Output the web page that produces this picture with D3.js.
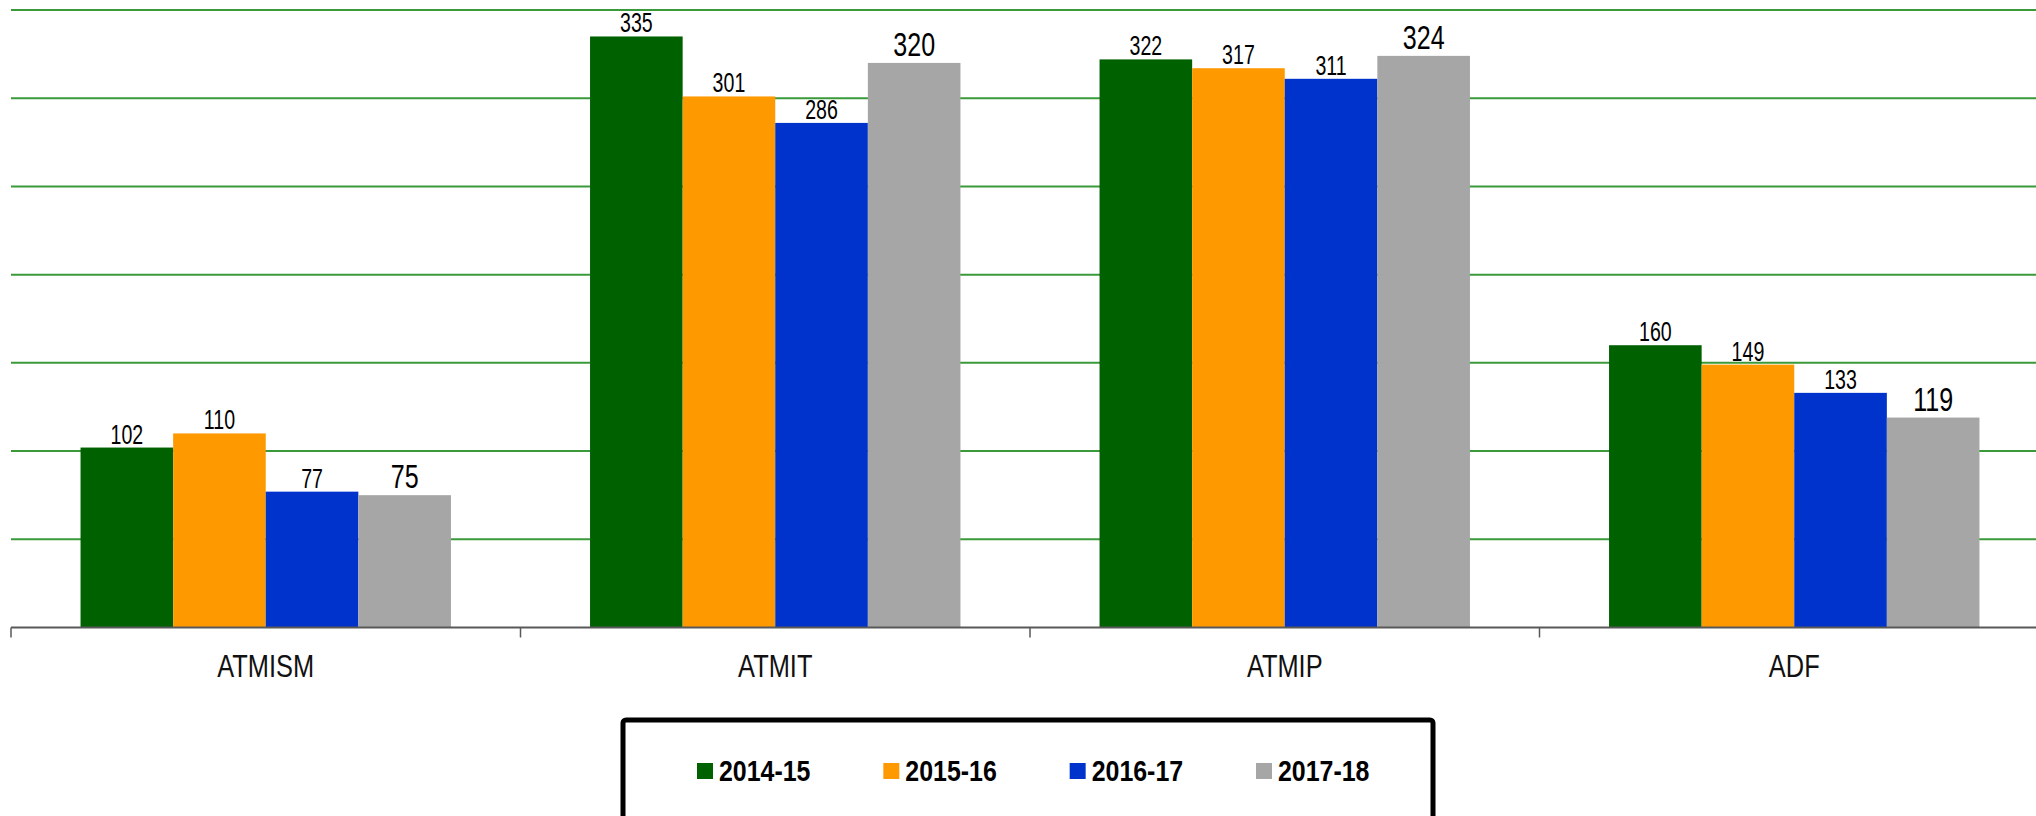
<!DOCTYPE html>
<html>
<head>
<meta charset="utf-8">
<script src="https://cdn.jsdelivr.net/npm/d3@7"></script>
<style>
  body { margin: 0; background: #fff; }
  text { font-family: "Liberation Sans", Arial, sans-serif; }
</style>
</head>
<body>
<div id="viz"></div>
<script>
const categories = ["ATMISM", "ATMIT", "ATMIP", "ADF"];
const seriesNames = ["2014-15", "2015-16", "2016-17", "2017-18"];
const values2014 = [102, 335, 322, 160];
const values2015 = [110, 301, 317, 149];
const values2016 = [77, 286, 311, 133];
const values2017 = [75, 320, 324, 119];
const yTicks = [50, 100, 150, 200, 250, 300, 350];
const colors = ["#006100", "#ff9900", "#0033cc", "#a6a6a6"];

document.addEventListener("DOMContentLoaded", () => {
    const width = 2036;
    const height = 816;
    const allValues = [values2014, values2015, values2016, values2017];

    const svg = d3.select('#viz').append('svg')
        .attr('width', width)
        .attr('height', height);

    const x = d3.scaleBand()
        .domain(categories)
        .range([11, 2049])
        .paddingInner(0)
        .paddingOuter(0);

    const xSeries = d3.scaleBand()
        .domain(seriesNames)
        .range([0, x.bandwidth()])
        .paddingInner(0)
        .paddingOuter(0.751);

    const y = d3.scaleLinear()
        .domain([0, 350])
        .range([627.5, 10]);

    // grid lines
    svg.append('g')
        .selectAll('line')
        .data(yTicks)
        .enter()
        .append('line')
        .attr('x1', 11)
        .attr('x2', width)
        .attr('y1', d => y(d))
        .attr('y2', d => y(d))
        .attr('stroke', '#3a9a3a')
        .attr('stroke-width', 2);

    // bars
    const groups = svg.append('g')
        .selectAll('g')
        .data(categories)
        .enter()
        .append('g')
        .attr('transform', d => `translate(${x(d)},0)`);

    const cells = (c, i) => seriesNames.map((s, j) => ({ s, j, v: allValues[j][i] }));

    groups.selectAll('rect')
        .data(cells)
        .enter()
        .append('rect')
        .attr('x', d => xSeries(d.s))
        .attr('width', xSeries.bandwidth())
        .attr('y', d => y(d.v))
        .attr('height', d => y(0) - y(d.v))
        .attr('fill', d => colors[d.j]);

    // value labels, squeezed to look like the condensed face
    groups.selectAll('text')
        .data(cells)
        .enter()
        .append('text')
        .attr('transform', d => {
            const lx = xSeries(d.s) + xSeries.bandwidth() / 2;
            const ly = y(d.v) - (d.j === 3 ? 7 : 4);
            return `translate(${lx},${ly}) scale(${d.j === 3 ? 0.76 : 0.7},1)`;
        })
        .attr('text-anchor', 'middle')
        .attr('font-size', d => d.j === 3 ? 33 : 28)
        .attr('fill', '#000')
        .text(d => d.v);

    // x axis
    const xAxis = svg.append('g')
        .attr('transform', `translate(0,${y(0)})`);
    xAxis.append('line')
        .attr('x1', 11).attr('x2', width)
        .attr('stroke', '#595959').attr('stroke-width', 2);
    xAxis.selectAll('.sep')
        .data(categories)
        .enter()
        .append('line')
        .attr('x1', d => x(d)).attr('x2', d => x(d))
        .attr('y1', 0).attr('y2', 10)
        .attr('stroke', '#595959').attr('stroke-width', 1.5);

    svg.append('g')
        .selectAll('text')
        .data(categories)
        .enter()
        .append('text')
        .attr('transform', d => `translate(${x(d) + x.bandwidth() / 2},677) scale(0.82,1)`)
        .attr('text-anchor', 'middle')
        .attr('font-size', 31)
        .attr('fill', '#111')
        .text(d => d);

    // legend
    const legend = svg.append('g');
    legend.append('rect')
        .attr('x', 623)
        .attr('y', 720)
        .attr('width', 810)
        .attr('height', 200)
        .attr('rx', 3)
        .attr('fill', '#fff')
        .attr('stroke', '#000')
        .attr('stroke-width', 5);

    const legendX = d3.scalePoint()
        .domain(seriesNames)
        .range([697, 1256]);

    const items = legend.selectAll('g.item')
        .data(seriesNames)
        .enter()
        .append('g')
        .attr('class', 'item')
        .attr('transform', d => `translate(${legendX(d)},0)`);

    items.append('rect')
        .attr('y', 763)
        .attr('width', 16)
        .attr('height', 16)
        .attr('fill', (d, i) => colors[i]);

    items.append('text')
        .attr('transform', 'translate(22,781) scale(0.86,1)')
        .attr('font-size', 29)
        .attr('font-weight', 'bold')
        .attr('fill', '#000')
        .text(d => d);
});
</script>
</body>
</html>
